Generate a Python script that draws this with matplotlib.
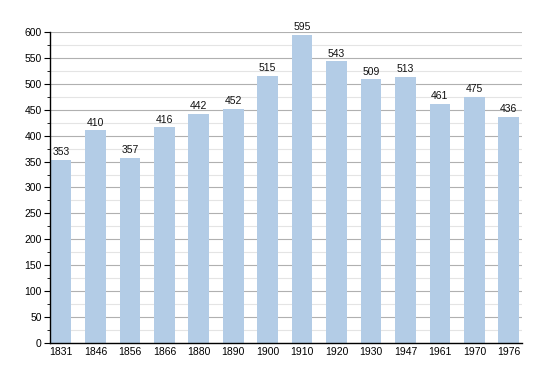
import matplotlib
matplotlib.use("Agg")
import matplotlib.pyplot as plt
from matplotlib.ticker import MultipleLocator

years = ["1831", "1846", "1856", "1866", "1880", "1890", "1900", "1910", "1920", "1930", "1947", "1961", "1970", "1976"]
population = [353, 410, 357, 416, 442, 452, 515, 595, 543, 509, 513, 461, 475, 436]

plt.rcParams['font.family'] = ['Liberation Sans', 'DejaVu Sans']
fig = plt.figure(figsize=(5.5, 3.73), dpi=100)
ax = fig.add_axes([0.0909, 0.0804, 0.858, 0.834])

x = list(range(len(years)))
bars = ax.bar(x, population, width=0.6, color='#b3cce6', zorder=2)
for xi, v in zip(x, population):
    ax.text(xi, v + 5, str(v), ha='center', va='bottom', fontsize=7.5, color='#111111', zorder=3)

ax.set_xlim(-0.32, 13.38)
ax.set_ylim(0, 600)
ax.set_xticks(x)
ax.set_xticklabels(years)
ax.yaxis.set_major_locator(MultipleLocator(50))
ax.yaxis.set_minor_locator(MultipleLocator(25))
ax.grid(axis='y', which='major', color='#b0b0b0', linewidth=0.8, zorder=1)
ax.grid(axis='y', which='minor', color='#e4e4e4', linewidth=0.8, zorder=1)
for s in ['top', 'right']:
    ax.spines[s].set_visible(False)
ax.spines['left'].set_linewidth(1.0)
ax.spines['bottom'].set_linewidth(1.0)
ax.tick_params(axis='x', length=0, labelsize=7.5, pad=3)
ax.tick_params(axis='y', which='major', length=4, labelsize=7.5, pad=2)
ax.tick_params(axis='y', which='minor', length=2)

fig.savefig("out.png", dpi=100)
